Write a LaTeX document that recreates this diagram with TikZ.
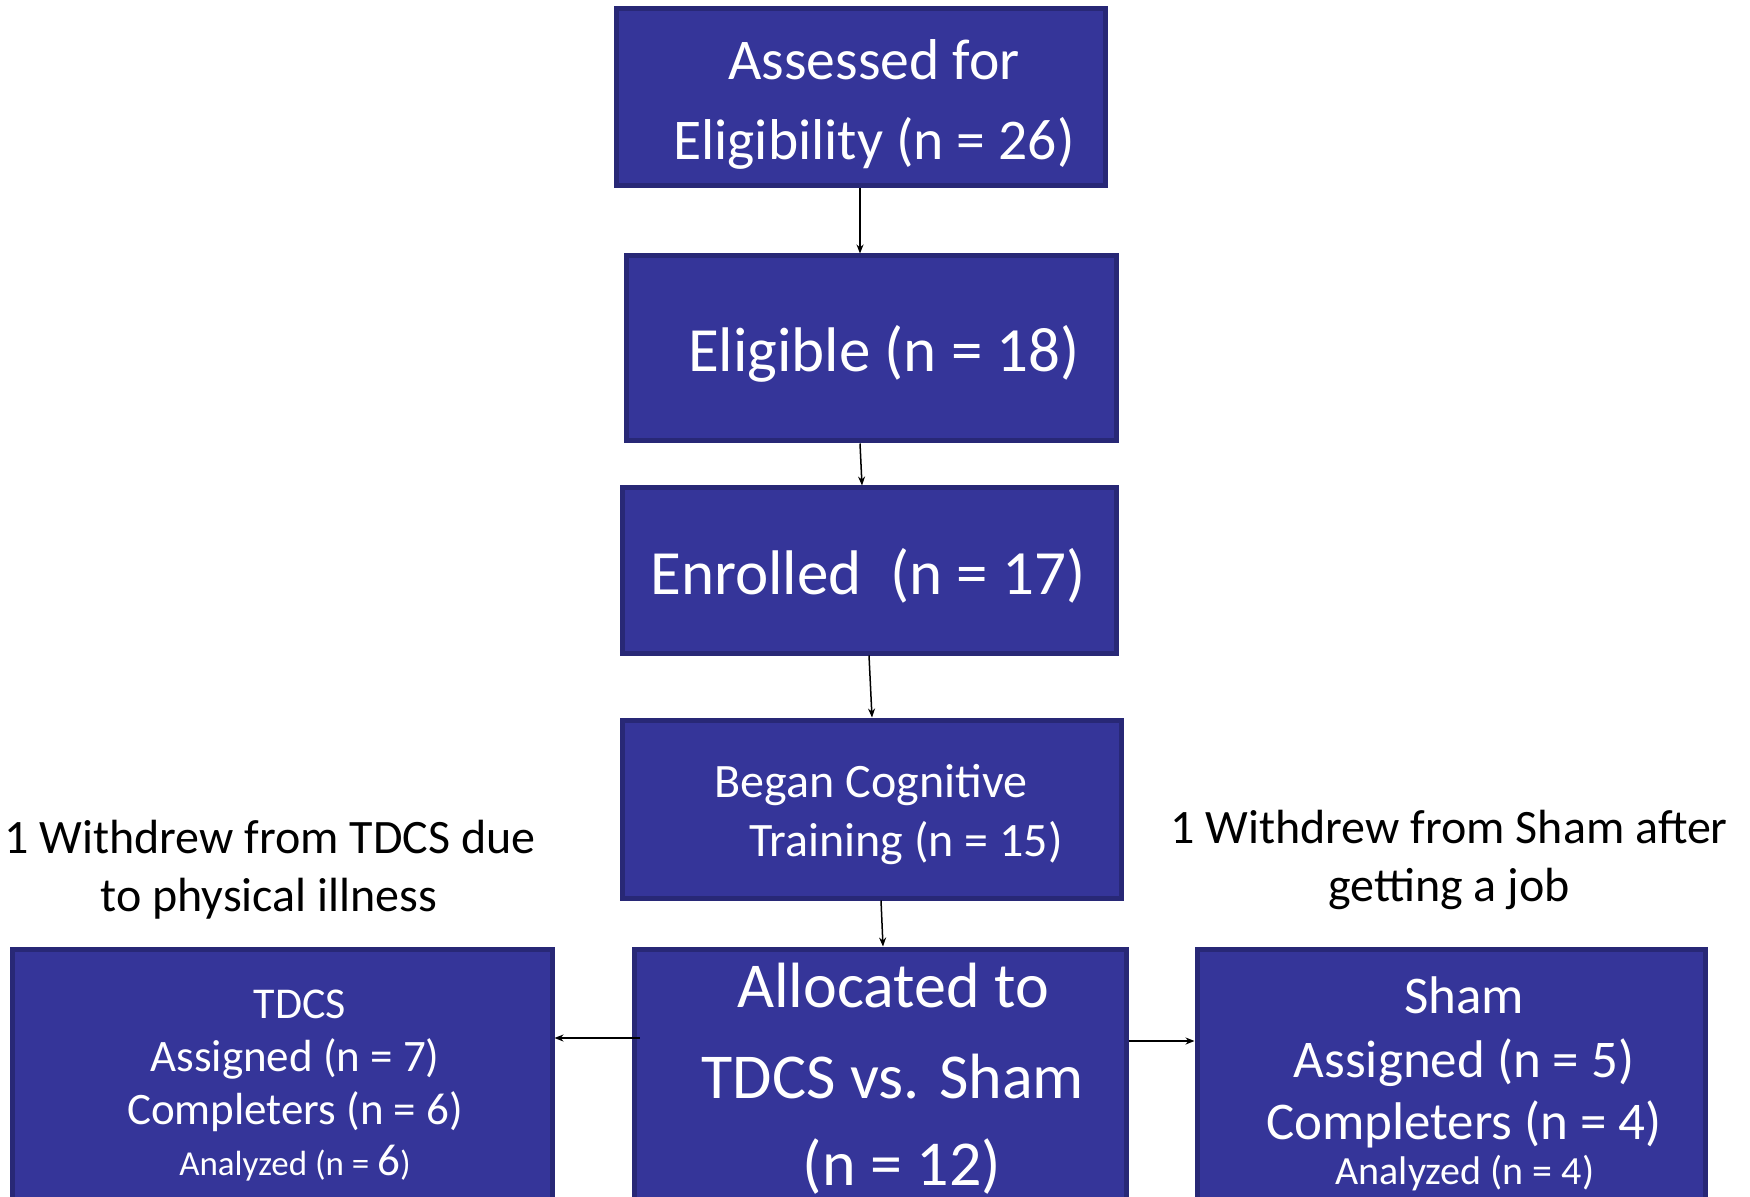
\documentclass[tikz,border=0pt]{standalone}
\usepackage{fontspec}
\setmainfont{Carlito}
\usetikzlibrary{arrows.meta}
\definecolor{boxfill}{RGB}{53,53,153}
\definecolor{boxline}{RGB}{40,40,118}
\begin{document}
\begin{tikzpicture}[x=0.5pt,y=-0.5pt,
  box/.style={draw=boxline, line width=2.5pt, fill=boxfill, inner sep=0pt},
  txt/.style={text=white, anchor=base, inner sep=0pt},
  lbl/.style={text=black, anchor=base, inner sep=0pt, font=\fontsize{24}{28}\selectfont},
  arr/.style={line width=0.75pt, -{Stealth[length=4.5pt,width=3.5pt]}}]
\useasboundingbox (0,0) rectangle (1750,1197);
\clip (0,0) rectangle (1750,1197);
\fill[white] (0,0) rectangle (1750,1197);

% boxes
\node[box, minimum width=244.5pt, minimum height=88.5pt] (b1) at (860.5,97.5) {};
\node[box, minimum width=245pt, minimum height=92.5pt] (b2) at (871,348.5) {};
\node[box, minimum width=247pt, minimum height=82.5pt] (b3) at (869,570.5) {};
\node[box, minimum width=249.5pt, minimum height=89pt] (b4) at (871.5,809) {};
\node[box, minimum width=246pt, minimum height=135.5pt] (b5) at (880,1084.5) {};
\node[box, minimum width=270pt, minimum height=135.5pt] (b6) at (282,1084.5) {};
\node[box, minimum width=254pt, minimum height=135.5pt] (b7) at (1451,1084.5) {};

% box texts
\node[txt, font=\fontsize{28.8}{34}\selectfont] (t1a) at (874,80) {Assessed for};
\node[txt, font=\fontsize{28.8}{34}\selectfont] (t1b) at (874,160) {Eligibility (n = 26)};
\node[txt, font=\fontsize{31.5}{38}\selectfont] (t2) at (884,372) {Eligible (n = 18)};
\node[txt, font=\fontsize{31.5}{38}\selectfont] (t3) at (868,595) {Enrolled\ \ (n = 17)};
\node[txt, font=\fontsize{24}{29}\selectfont] (t4a) at (871,797) {Began Cognitive};
\node[txt, font=\fontsize{24}{29}\selectfont] (t4b) at (906,856) {Training (n = 15)};
\node[txt, font=\fontsize{32}{38}\selectfont] (t5a) at (893,1007) {Allocated to};
\node[txt, font=\fontsize{32}{38}\selectfont] (t5b) at (893,1098) {TDCS vs. Sham};
\node[txt, font=\fontsize{32}{38}\selectfont] (t5c) at (902,1185) {(n = 12)};

\node[txt, font=\fontsize{22}{26}\selectfont] (t6a) at (300,1018) {TDCS};
\node[txt, font=\fontsize{22.5}{27}\selectfont] (t6b) at (295,1071) {Assigned (n = 7)};
\node[txt, font=\fontsize{22.5}{27}\selectfont] (t6c) at (295,1124) {Completers (n = 6)};
\node[txt, font=\fontsize{17.5}{21}\selectfont] (t6d) at (295,1175) {Analyzed (n = {\fontsize{22.5}{27}\selectfont 6})};

\node[txt, font=\fontsize{26.5}{32}\selectfont] (t7a) at (1464,1013) {Sham};
\node[txt, font=\fontsize{26.5}{32}\selectfont] (t7b) at (1464,1077) {Assigned (n = 5)};
\node[txt, font=\fontsize{26.5}{32}\selectfont] (t7c) at (1464,1139) {Completers (n = 4)};
\node[txt, font=\fontsize{20}{24}\selectfont] (t7d) at (1465,1184) {Analyzed (n = 4)};

% side labels
\node[lbl] (l1a) at (270,853) {1 Withdrew from TDCS due};
\node[lbl] (l1b) at (269,911) {to physical illness};
\node[lbl] (l2a) at (1449,843) {1 Withdrew from Sham after};
\node[lbl] (l2b) at (1449,901) {getting a job};

% connectors
\draw[arr] ([xshift=-0.25pt]b1.south) -- ([xshift=-5.5pt]b2.north);
\draw[arr] ([xshift=-5.5pt]b2.south) -- ([xshift=-3.5pt]b3.north);
\draw[arr] (b3.south) -- ([xshift=0.25pt]b4.north);
\draw[arr] ([xshift=4.75pt]b4.south) -- ([xshift=1.5pt]b5.north);
\draw[arr] ([xshift=4pt,yshift=23.25pt]b5.west) -- ([yshift=23.25pt]b6.east);
\draw[arr] ([yshift=21.75pt]b5.east) -- ([yshift=21.75pt]b7.west);
\end{tikzpicture}
\end{document}
